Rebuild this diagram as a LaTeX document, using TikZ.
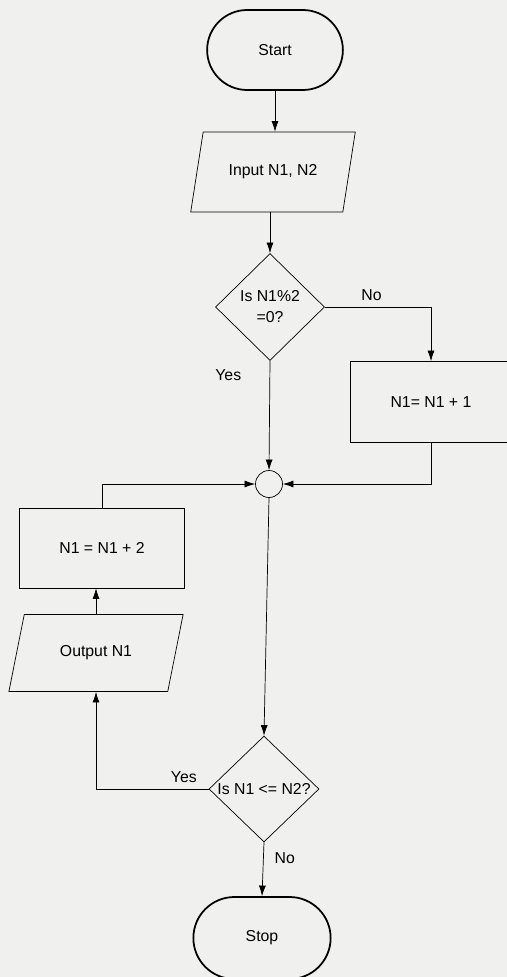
\documentclass[tikz,border=0pt]{standalone}
\usepackage{fontspec}
\setmainfont{Liberation Sans}
\usetikzlibrary{shapes.geometric,shapes.misc,arrows.meta}
\definecolor{paper}{RGB}{240,240,238}
\begin{document}
\begin{tikzpicture}[x=0.02cm, y=-0.02cm, font=\fontsize{9}{12}\selectfont,
    >={Latex[length=6pt,width=4pt]},
    term/.style={draw, line width=1pt, rounded rectangle, minimum width=2.95cm, minimum height=1.6cm},
    io/.style={draw, trapezium, trapezium left angle=71, trapezium right angle=109, trapezium stretches=true, minimum width=3.3cm, minimum height=1.6cm},
    proc/.style={draw, rectangle, minimum height=1.6cm},
    decision/.style={draw, diamond, inner sep=0pt, minimum width=2.18cm, minimum height=2.14cm, align=center},
    joint/.style={draw, circle, minimum size=0.54cm, inner sep=0pt}]

    % Page
    \fill[paper] (0,0) rectangle (507,977);
    \useasboundingbox (0,0) rectangle (507,977);

    % Nodes
    \node[term] (start) at (275,50) {Start};
    \node[io] (input) at (273,172) {Input N1, N2};
    \node[decision] (odd) at (270,307) {Is N1\%2\\=0?};
    \node[proc, minimum width=3.24cm, minimum height=1.62cm] (incone) at (431,402) {N1= N1 + 1};
    \node[joint] (join) at (269,484) {};
    \node[proc, minimum width=3.3cm] (inctwo) at (102,548) {N1 = N1 + 2};
    \node[io, minimum width=3.5cm, minimum height=1.54cm] (output) at (96,653) {Output N1};
    \node[decision, minimum width=2.2cm, minimum height=2.12cm] (cmp) at (264,789) {\makebox[0pt]{Is N1 <= N2?}};
    \node[term, minimum width=2.98cm, minimum height=1.64cm] (stop) at (262,938) {Stop};

    % Connectors
    \draw[->] (start.south) -- (start.south |- input.north);
    \draw[->] (odd.north |- input.south) -- (odd.north);
    \draw[->] (odd.east) -| node[pos=0.22, above] {No} (incone.north);
    \draw[->] (odd.south) -- node[pos=0.13, left=0.45cm] {Yes} (join.north);
    \draw[->] (incone.south) |- (join.east);
    \draw[->] (inctwo.north) |- (join.west);
    \draw[->] (join.south) -- (cmp.north);
    \draw[->] (cmp.west) -| node[pos=0.11, above] {Yes} (output.south);
    \draw[->] (output.north) -- (output.north |- inctwo.south);
    \draw[->] (cmp.south) -- node[pos=0.3, right=0.1cm] {No} (stop.north);
\end{tikzpicture}
\end{document}
